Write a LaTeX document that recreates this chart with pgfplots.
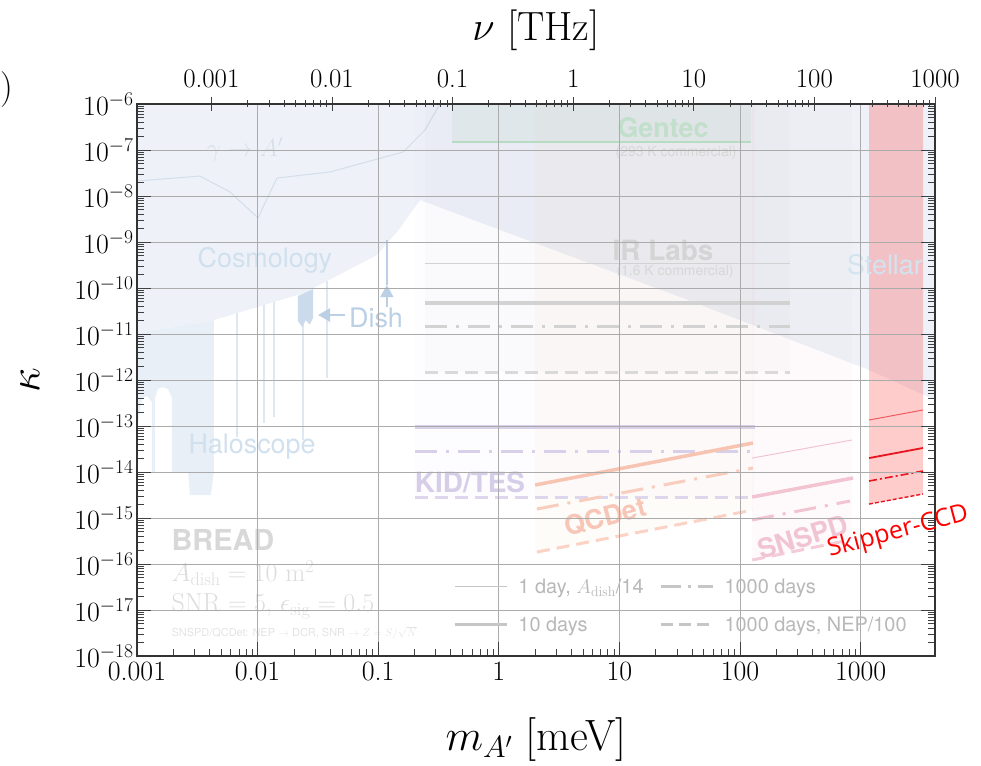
\RequirePackage{fix-cm}
\documentclass[border=0pt]{standalone}
\usepackage{fontspec}
\usepackage{pgfplots}
\pgfplotsset{compat=1.18}
\usetikzlibrary{arrows.meta}
\newfontfamily\helv{TeX Gyre Heros}
\newfontfamily\osans{Open Sans}

\definecolor{excl}{HTML}{EEF2F8}
\definecolor{halo}{HTML}{E8EFF7}
\definecolor{spike}{HTML}{DFE8F2}
\definecolor{dishc}{HTML}{CCDBEC}
\definecolor{dishtxt}{HTML}{BBD0E5}
\definecolor{cosmotxt}{HTML}{D0E0EE}
\definecolor{gammaline}{HTML}{D3DEEA}
\definecolor{gammatxt}{HTML}{D8DFE9}
\definecolor{gridc}{HTML}{ABABAB}
\definecolor{gentecl}{HTML}{B7DCC3}
\definecolor{gentect}{HTML}{C2DFCB}
\definecolor{gentecf}{HTML}{6CB585}
\definecolor{subt}{HTML}{D6D8D6}
\definecolor{irl}{HTML}{D2D2D2}
\definecolor{irt}{HTML}{D4D4D4}
\definecolor{kidl}{HTML}{D8CFE9}
\definecolor{kidt}{HTML}{D6CDE8}
\definecolor{kidf}{HTML}{8C70C8}
\definecolor{qcl}{HTML}{F8C4B2}
\definecolor{qct}{HTML}{F8C6B7}
\definecolor{qcf}{HTML}{F0A060}
\definecolor{snl}{HTML}{F2C3D1}
\definecolor{snt}{HTML}{F0C4D2}
\definecolor{snf}{HTML}{E06080}
\definecolor{skl}{HTML}{E8141E}
\definecolor{breadt}{HTML}{D8D8D8}
\definecolor{infot}{HTML}{DCDCDC}
\definecolor{smallt}{HTML}{E3E3E3}
\definecolor{legl}{HTML}{C6C6C6}
\definecolor{legt}{HTML}{B8B8B8}
\definecolor{stelt}{HTML}{D2E4EF}

\begin{document}
\begin{tikzpicture}
\begin{axis}[
  at={(0bp,0bp)}, anchor=south west,
  scale only axis, width=798bp, height=552bp,
  xmode=log, ymode=log,
  xmin=0.001, xmax=4135.67, ymin=1e-18, ymax=1e-6,
  xtickten={-3,-2,-1,0,1,2,3},
  xticklabels={0.001,0.01,0.1,1,10,100,1000},
  ytickten={-18,-17,-16,-15,-14,-13,-12,-11,-10,-9,-8,-7,-6},
  xtick pos=left, ytick pos=both,
  grid=major, major grid style={gridc, line width=0.9bp},
  axis on top,
  axis line style={line width=1.4bp, black!80},
  major tick length=14bp, minor tick length=7bp,
  every tick/.style={black!75, line width=0.8bp},
  tick label style={font=\fontsize{28}{30}\selectfont},
  xticklabel style={yshift=-3bp},
  xlabel={$m_{A'}$ [meV]}, ylabel={$\kappa$},
  label style={font=\fontsize{44}{48}\selectfont},
  xlabel style={at={(axis description cs:0.5,-0.152)}, anchor=center},
  ylabel style={at={(axis description cs:-0.134,0.5)}, anchor=center},
  legend style={at={(0.392,0.148)}, anchor=north west, draw=none, fill=none,
    font=\helv\fontsize{20}{22}\selectfont, text=legt, legend columns=2,
    /tikz/every odd column/.append style={column sep=8bp},
    /tikz/every even column/.append style={column sep=14bp}, row sep=18bp},
  legend cell align=left,
  legend image code/.code={\draw[#1] (0bp,0bp) -- (52bp,0bp);},
]
% legend images
\addlegendimage{legl, line width=1bp}
\addlegendimage{legl, line width=3bp, dash pattern=on 20bp off 7bp on 3bp off 7bp}
\addlegendimage{legl, line width=3.5bp}
\addlegendimage{legl, line width=3bp, dash pattern=on 12bp off 6bp}
\legend{{1 day, $A_{\mathrm{dish}}$/14},{1000 days},{10 days},{1000 days, NEP/100}}

% exclusion (cosmology + stellar + gamma->A')
\addplot[fill=excl, draw=none] coordinates {
 (0.001,1e-6) (4135.67,1e-6) (4135.67,3.67e-13) (1175,1.65e-12) (31.8,6.37e-11)
 (0.222,8.18e-9) (0.152,2.01e-9) (0.0977,5.21e-10) (0.0243,7.78e-11)
 (0.00435,2.01e-11) (0.001,1.05e-11)} -- cycle;

% haloscope
\addplot[fill=halo, draw=none] coordinates {
 (0.001,1.05e-11) (0.00435,2.01e-11) (0.00435,1.10e-14) (0.00411,3.16e-15)
 (0.00275,3.16e-15) (0.00265,1.0e-14) (0.00195,1.0e-14) (0.00195,4.06e-13)
 (0.00181,6.37e-13) (0.00164,7.05e-13) (0.00149,6.37e-13) (0.00141,4.06e-13)
 (0.00141,1.0e-14) (0.00133,1.0e-14) (0.00133,3.33e-13) (0.00121,4.49e-13)
 (0.00110,4.06e-13) (0.00106,2.23e-13) (0.001,8.18e-14)} -- cycle;
% haloscope spikes
\addplot[fill=spike, draw=none] coordinates {(0.00662,2.86e-11) (0.00688,2.86e-11) (0.00688,5.77e-14) (0.00662,5.77e-14)} -- cycle;
\addplot[fill=spike, draw=none] coordinates {(0.0111,4.27e-11) (0.0115,4.27e-11) (0.0115,1.16e-13) (0.0111,1.16e-13)} -- cycle;
\addplot[fill=spike, draw=none] coordinates {(0.0134,5.0e-11) (0.0139,5.0e-11) (0.0139,1.57e-13) (0.0134,1.57e-13)} -- cycle;
\addplot[fill=spike, draw=none] coordinates {(0.0233,7.0e-11) (0.0243,7.0e-11) (0.0243,4.97e-14) (0.0233,4.97e-14)} -- cycle;
\addplot[fill=spike, draw=none] coordinates {(0.0367,1.42e-10) (0.0385,1.42e-10) (0.0385,1.10e-12) (0.0367,1.10e-12)} -- cycle;
% dish block
\addplot[fill=dishc, draw=none] coordinates {(0.0216,6.70e-11) (0.0288,9.51e-11) (0.0288,2.2e-11) (0.0270,1.6e-11) (0.0250,2.0e-11) (0.0235,1.4e-11) (0.0216,1.9e-11)} -- cycle;
% dish arrow
\addplot[dishtxt, line width=2.5bp, -{Triangle[length=12bp,width=13bp]}] coordinates {(0.0531,2.59e-11) (0.0317,2.59e-11)};
% vertical arrow
\addplot[dishtxt, line width=1.5bp] coordinates {(0.118,1.10e-9) (0.118,1.16e-10)};
\addplot[dishtxt, line width=1.5bp, -{Triangle[length=12bp,width=13bp]}] coordinates {(0.118,3.86e-11) (0.118,1.16e-10)};
% gamma -> A' line
\addplot[gammaline, line width=1bp] coordinates {
 (0.001,2.12e-8) (0.00333,2.72e-8) (0.00590,1.22e-8) (0.0101,3.33e-9) (0.0113,6.37e-9)
 (0.0145,2.46e-8) (0.0398,3.33e-8) (0.161,9.06e-8) (0.244,2.72e-7) (0.325,1e-6)};

% detector fills
\addplot[fill=gentecf, fill opacity=0.07, draw=none] coordinates {(0.409,1.49e-7) (123,1.49e-7) (123,1e-6) (0.409,1e-6)} -- cycle;
\addplot[fill=black, fill opacity=0.01, draw=none] coordinates {(0.244,1.49e-12) (260,1.49e-12) (260,1e-6) (0.244,1e-6)} -- cycle;
\addplot[fill=kidf, fill opacity=0.02, draw=none] coordinates {(0.202,2.86e-15) (133,2.86e-15) (133,1e-6) (0.202,1e-6)} -- cycle;
\addplot[fill=qcf, fill opacity=0.035, draw=none] coordinates {(2.0,1.82e-16) (128,1.49e-15) (128,1e-6) (2.0,1e-6)} -- cycle;
\addplot[fill=snf, fill opacity=0.03, draw=none] coordinates {(126,1.22e-16) (849,3.33e-16) (849,1e-6) (126,1e-6)} -- cycle;

% Gentec
\addplot[gentecl, line width=1.2bp] coordinates {(0.409,1.49e-7) (123,1.49e-7)};
% IR Labs
\addplot[irl, line width=1bp] coordinates {(0.244,3.33e-10) (260,3.33e-10)};
\addplot[irl, line width=3.5bp] coordinates {(0.244,4.72e-11) (260,4.72e-11)};
\addplot[irl, line width=3bp, dash pattern=on 22bp off 9bp on 3bp off 9bp] coordinates {(0.244,1.49e-11) (260,1.49e-11)};
\addplot[irl!85!white, line width=3bp, dash pattern=on 13bp off 7bp] coordinates {(0.244,1.49e-12) (260,1.49e-12)};
% KID/TES
\addplot[kidl, line width=3.5bp] coordinates {(0.202,9.51e-14) (133,9.51e-14)};
\addplot[kidl, line width=3bp, dash pattern=on 22bp off 9bp on 3bp off 9bp] coordinates {(0.202,2.86e-14) (133,2.86e-14)};
\addplot[kidl!85!white, line width=3bp, dash pattern=on 13bp off 7bp] coordinates {(0.202,2.86e-15) (133,2.86e-15)};
% QCDet
\addplot[qcl, line width=3.5bp] coordinates {(2.0,5.21e-15) (128,4.27e-14)};
\addplot[qcl!85!white, line width=3bp, dash pattern=on 22bp off 9bp on 3bp off 9bp] coordinates {(2.07,1.57e-15) (128,1.22e-14)};
\addplot[qcl!75!white, line width=3bp, dash pattern=on 13bp off 7bp] coordinates {(2.07,1.82e-16) (128,1.49e-15)};
% SNSPD
\addplot[snl, line width=1bp] coordinates {(126,2.01e-14) (849,4.97e-14)};
\addplot[snl, line width=3.5bp] coordinates {(126,2.86e-15) (865,7.41e-15)};
\addplot[snl, line width=3bp, dash pattern=on 22bp off 9bp on 3bp off 9bp] coordinates {(126,9.06e-16) (817,2.34e-15)};
\addplot[snl!85!white, line width=3bp, dash pattern=on 13bp off 7bp] coordinates {(126,1.22e-16) (817,3.33e-16)};

% Skipper-CCD
\addplot[fill=red, fill opacity=0.2, draw=none] coordinates {(1175,2.01e-15) (3290,3.33e-15) (3290,1e-6) (1175,1e-6)} -- cycle;
\addplot[skl!70!white, line width=1bp] coordinates {(1175,1.35e-13) (3290,2.23e-13)};
\addplot[skl, line width=1.8bp] coordinates {(1175,2.01e-14) (3290,3.33e-14)};
\addplot[skl, line width=1.6bp, dash pattern=on 8bp off 3bp on 2bp off 3bp] coordinates {(1175,6.37e-15) (3290,1.05e-14)};
\addplot[skl, line width=1.4bp, dash pattern=on 4bp off 2bp] coordinates {(1175,2.01e-15) (3290,3.33e-15)};

% region labels
\node[text=gammatxt, font=\fontsize{25}{27}\selectfont] at (axis cs:0.00787,1e-7) {$\gamma\rightarrow A'$};
\node[text=cosmotxt, font=\helv\fontsize{27}{29}\selectfont] at (axis cs:0.0115,4.06e-10) {Cosmology};
\node[text=cosmotxt, font=\helv\fontsize{27}{29}\selectfont] at (axis cs:0.0090,3.49e-14) {Haloscope};
\node[text=dishtxt, font=\helv\fontsize{27}{29}\selectfont] at (axis cs:0.0959,2.23e-11) {Dish};
\node[text=stelt, font=\helv\fontsize{27}{29}\selectfont] at (axis cs:1592,3.16e-10) {Stellar};
\node[text=gentect, font=\helv\bfseries\fontsize{27}{29}\selectfont] at (axis cs:23.0,3.0e-7) {Gentec};
\node[text=subt, font=\helv\fontsize{14}{16}\selectfont] at (axis cs:29.5,8.6e-8) {(293 K commercial)};
\node[text=irt, font=\helv\bfseries\fontsize{28}{30}\selectfont] at (axis cs:23.0,6.7e-10) {IR Labs};
\node[text=subt, font=\helv\fontsize{14}{16}\selectfont] at (axis cs:28.9,2.23e-10) {(1.6 K commercial)};
\node[text=kidt, font=\helv\bfseries\fontsize{28}{30}\selectfont] at (axis cs:0.577,6.07e-15) {KID/TES};
\node[text=qct, font=\helv\bfseries\fontsize{27}{29}\selectfont, rotate=15] at (axis cs:7.6,1.05e-15) {QCDet};
\node[text=snt, font=\helv\bfseries\fontsize{27}{29}\selectfont, rotate=17] at (axis cs:333,3.86e-16) {SNSPD};
\node[text=breadt, font=\helv\bfseries\fontsize{29}{31}\selectfont, anchor=west] at (axis cs:0.00181,3.33e-16) {BREAD};
\node[text=infot, font=\fontsize{26}{28}\selectfont, anchor=west] at (axis cs:0.00181,6.37e-17) {$A_{\mathrm{dish}} = 10~\mathrm{m}^2$};
\node[text=infot, font=\fontsize{26}{28}\selectfont, anchor=west] at (axis cs:0.00181,1.22e-17) {SNR $=5$, $\epsilon_{\mathrm{sig}}=0.5$};
\node[text=smallt, font=\helv\fontsize{11}{13}\selectfont, anchor=west] at (axis cs:0.00181,3.16e-18) {SNSPD/QCDet: NEP $\rightarrow$ DCR, SNR $\rightarrow$ $Z=S/\sqrt{N}$};
\coordinate (skipc) at (axis cs:2042,4.97e-16);
\end{axis}

\begin{axis}[
  at={(0bp,0bp)}, anchor=south west,
  scale only axis, width=798bp, height=552bp,
  xmode=log, xmin=0.000241799, xmax=1000, ymin=0, ymax=1,
  axis x line=top, x axis line style={-, line width=1.4bp, black!80},
  hide y axis,
  xtickten={-3,-2,-1,0,1,2,3},
  xticklabels={0.001,0.01,0.1,1,10,100,1000},
  major tick length=14bp, minor tick length=7bp,
  every tick/.style={black!75, line width=0.8bp},
  tick label style={font=\fontsize{27}{30}\selectfont},
  xticklabel style={yshift=6bp},
  xlabel={$\nu$ [THz]},
  label style={font=\fontsize{41}{44}\selectfont},
  xlabel style={at={(axis description cs:0.5,1.134)}, anchor=center},
]
\addplot[draw=none] coordinates {(1,0.5)};
\end{axis}

\node[text=red, font=\osans\fontsize{25}{27}\selectfont, rotate=15] at (skipc) {Skipper-CCD};
\node[font=\fontsize{36}{40}\selectfont] at (-130bp,566bp) {)};

\pgfresetboundingbox
\useasboundingbox (-137bp,-110bp) rectangle (844bp,656bp);
\end{tikzpicture}
\end{document}
